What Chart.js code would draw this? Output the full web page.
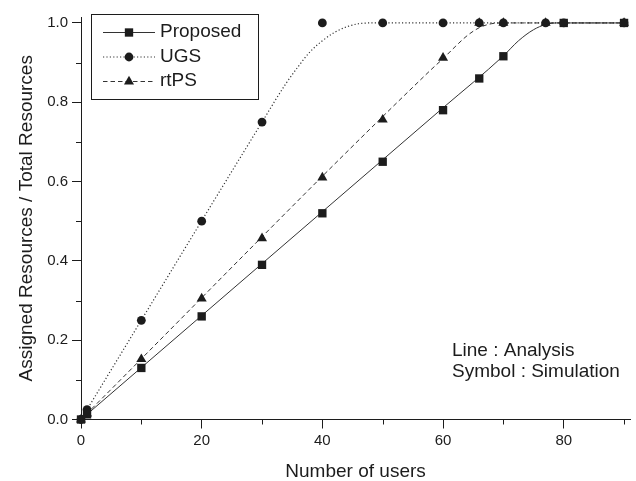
<!DOCTYPE html>
<html>
<head>
<meta charset="utf-8">
<script src="https://cdn.jsdelivr.net/npm/chart.js@4.4.1/dist/chart.umd.min.js"></script>
<style>
  html, body { margin: 0; padding: 0; background: #fff; }
  #wrap { width: 636px; height: 481px; }
</style>
</head>
<body>
<div id="wrap"><canvas id="c" width="636" height="481"></canvas></div>
<script>
// simulation points (symbols)
const simX = [0, 1, 10, 20, 30, 40, 50, 60, 66, 70, 77, 80, 90];
const proposedSim = [0, 0.013, 0.13, 0.26, 0.39, 0.52, 0.65, 0.78, 0.86, 0.916, null, 1.0, 1.0];
const ugsSim = [0, 0.025, 0.25, 0.5, 0.75, 1.0, 1.0, 1.0, 1.0, 1.0, 1.0, 1.0, 1.0];
const rtpsSim = [0, 0.015, 0.152, 0.305, 0.457, 0.61, 0.756, 0.912, 1.0, 1.0, 1.0, null, 1.0];

// analysis curves (lines)
const proposedLineX = [0, 60, 70, 72.5, 75, 77, 78.8, 90];
const proposedLineY = [0, 0.786, 0.917, 0.955, 0.983, 0.996, 1.0, 1.0];
const ugsLineX = [0, 30, 34, 36, 38, 40, 42, 44, 46, 48, 90];
const ugsLineY = [0, 0.75, 0.848, 0.89, 0.928, 0.955, 0.976, 0.99, 0.998, 1.0, 1.0];
const rtpsLineX = [0, 58, 60, 62, 64, 66, 68, 70, 90];
const rtpsLineY = [0, 0.882, 0.91, 0.94, 0.968, 0.988, 0.998, 1.0, 1.0];

// axis ticks
const xTicksMajor = [0, 20, 40, 60, 80];
const xTicksMinor = [10, 30, 50, 70, 90];
const yTicksMajor = [0, 0.2, 0.4, 0.6, 0.8, 1.0];
const yTicksMinor = [0.1, 0.3, 0.5, 0.7, 0.9];

const legendNames = ['Proposed', 'UGS', 'rtPS'];
const noteLines = ['Line : Analysis', 'Symbol : Simulation'];

const INK = '#1c1c1c';
const LINE = '#333';
const FONT = '"Liberation Sans", Arial, Helvetica, sans-serif';

function pts(xs, ys) {
    return xs.map((x, i) => ({ x: x, y: ys[i] })).filter(p => p.y !== null);
}

const markerSet = (label, data, style, r) => ({
    label: label,
    data: data,
    showLine: false,
    pointStyle: style,
    pointRadius: r,
    pointBackgroundColor: INK,
    pointBorderColor: INK,
    pointBorderWidth: 0,
    clip: false
});

const lineSet = (label, data, dash, w) => ({
    label: label,
    data: data,
    showLine: true,
    pointRadius: 0,
    borderColor: LINE,
    borderWidth: w,
    borderDash: dash,
    cubicInterpolationMode: 'monotone',
    fill: false,
    clip: false
});

const styles = [
    { style: 'rect', r: 5.9, dash: [], w: 1 },
    { style: 'circle', r: 4.4, dash: [1.2, 2.2], w: 1.2 },
    { style: 'triangle', r: 5.8, dash: [4.5, 3], w: 1 }
];

function drawMarker(ctx, style, r, x, y) {
    ctx.beginPath();
    if (style === 'rect') {
        const s = Math.SQRT1_2 * r;
        ctx.rect(x - s, y - s, 2 * s, 2 * s);
    } else if (style === 'circle') {
        ctx.arc(x, y, r, 0, Math.PI * 2);
    } else {
        ctx.moveTo(x, y - r);
        ctx.lineTo(x + Math.sin(Math.PI * 2 / 3) * r, y + r / 2);
        ctx.lineTo(x - Math.sin(Math.PI * 2 / 3) * r, y + r / 2);
        ctx.closePath();
    }
    ctx.fill();
}

// minor ticks, legend box and the note text
const extras = {
    id: 'extras',
    afterDraw(chart) {
        const ctx = chart.ctx;
        const xs = chart.scales.x, ys = chart.scales.y;
        const a = chart.chartArea;
        ctx.save();
        ctx.strokeStyle = INK;
        ctx.lineWidth = 1;
        ctx.beginPath();
        xTicksMinor.forEach(v => {
            const px = Math.round(xs.getPixelForValue(v)) + 0.5;
            ctx.moveTo(px, a.bottom);
            ctx.lineTo(px, a.bottom + 5);
        });
        yTicksMinor.forEach(v => {
            const py = Math.round(ys.getPixelForValue(v)) + 0.5;
            ctx.moveTo(a.left, py);
            ctx.lineTo(a.left - 5, py);
        });
        ctx.stroke();

        // legend
        ctx.strokeStyle = INK;
        ctx.strokeRect(91.5, 14.5, 167, 85);
        ctx.font = '19px ' + FONT;
        ctx.textBaseline = 'middle';
        ctx.textAlign = 'left';
        const rows = [32, 56.5, 81];
        legendNames.forEach((name, i) => {
            const st = styles[i];
            const y = rows[i];
            ctx.save();
            ctx.strokeStyle = LINE;
            ctx.lineWidth = st.w;
            ctx.setLineDash(st.dash);
            ctx.beginPath();
            ctx.moveTo(103, y + 0.5);
            ctx.lineTo(155, y + 0.5);
            ctx.stroke();
            ctx.restore();
            ctx.fillStyle = INK;
            drawMarker(ctx, st.style, st.r, 129, y + 0.5);
            ctx.fillText(name, 160, y);
        });

        // note
        ctx.fillStyle = INK;
        ctx.fillText(noteLines[0], 452, 351);
        ctx.fillText(noteLines[1], 452, 371.5);
        ctx.restore();
    }
};

new Chart(document.getElementById('c'), {
    type: 'scatter',
    data: {
        datasets: [
            markerSet('Proposed sim', pts(simX, proposedSim), 'rect', styles[0].r),
            markerSet('UGS sim', pts(simX, ugsSim), 'circle', styles[1].r),
            markerSet('rtPS sim', pts(simX, rtpsSim), 'triangle', styles[2].r),
            lineSet('Proposed', pts(proposedLineX, proposedLineY), styles[0].dash, styles[0].w),
            lineSet('UGS', pts(ugsLineX, ugsLineY), styles[1].dash, styles[1].w),
            lineSet('rtPS', pts(rtpsLineX, rtpsLineY), styles[2].dash, styles[2].w)
        ]
    },
    options: {
        responsive: false,
        animation: false,
        devicePixelRatio: 1,
        layout: { padding: { top: 17, right: 4, left: 0, bottom: 0 } },
        plugins: {
            legend: { display: false },
            tooltip: { enabled: false }
        },
        scales: {
            x: {
                type: 'linear',
                min: 0,
                max: 91,
                afterBuildTicks: s => { s.ticks = xTicksMajor.map(v => ({ value: v })); },
                afterFit: s => { s.height = 61.5; },
                grid: { drawOnChartArea: false, tickLength: 9, color: INK, lineWidth: 1 },
                border: { display: true, color: INK, width: 1 },
                ticks: {
                    autoSkip: false,
                    maxRotation: 0,
                    padding: 3,
                    color: INK,
                    font: { family: FONT, size: 15 },
                    callback: v => String(v)
                },
                title: {
                    display: true,
                    text: 'Number of users',
                    color: INK,
                    padding: { top: 0, bottom: 0 },
                    font: { family: FONT, size: 19, lineHeight: 1 }
                }
            },
            y: {
                type: 'linear',
                min: 0,
                max: 1.015,
                afterBuildTicks: s => { s.ticks = yTicksMajor.map(v => ({ value: v })); },
                afterFit: s => { s.width = 81; },
                grid: { drawOnChartArea: false, tickLength: 9, color: INK, lineWidth: 1 },
                border: { display: true, color: INK, width: 1 },
                ticks: {
                    autoSkip: false,
                    padding: 4,
                    color: INK,
                    font: { family: FONT, size: 15 },
                    callback: v => Number(v).toFixed(1)
                },
                title: {
                    display: true,
                    text: 'Assigned Resources / Total Resources',
                    color: INK,
                    padding: { top: 15, bottom: 0 },
                    font: { family: FONT, size: 19 }
                }
            }
        }
    },
    plugins: [extras]
});
</script>
</body>
</html>
